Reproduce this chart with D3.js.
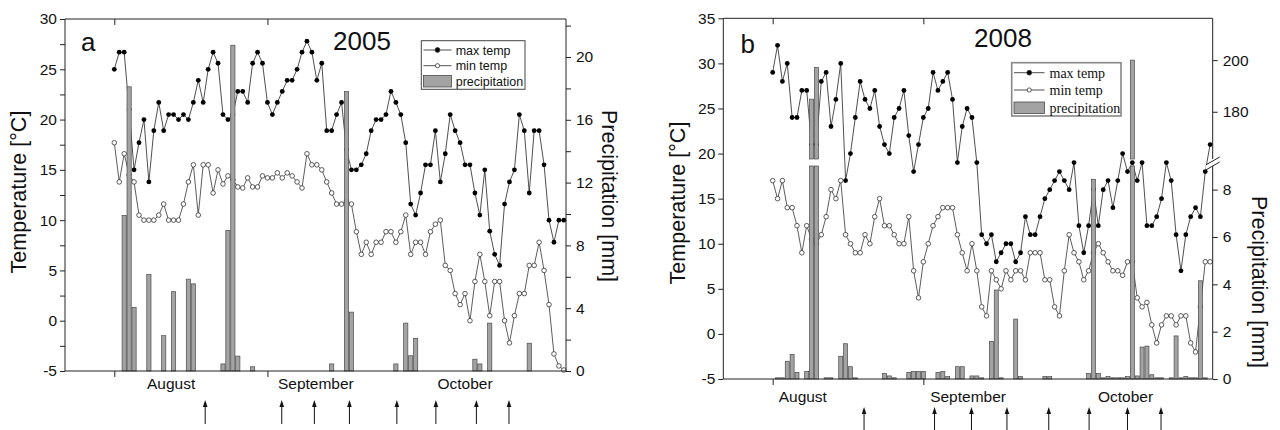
<!DOCTYPE html>
<html>
<head>
<meta charset="utf-8">
<script src="https://cdn.jsdelivr.net/npm/d3@7"></script>
<style>
  body { margin: 0; background: #fff; }
  svg { display: block; }
</style>
</head>
<body>
<script>
// daily values, index 0 = 1 August
var maxTempA = [25, 26.7, 26.7, 21, 15, 17.7, 20, 13.8, 18.9, 21.7, 18.9, 20.5, 20.5, 20, 20.5, 20,
  21.7, 23.9, 21.7, 25, 26.7, 25.6, 20.5, 20, 20.5, 22.8, 22.8, 21.7, 25.6, 26.7, 25.6, 21.7,
  20.5, 21.7, 22.8, 23.9, 23.9, 25, 26.7, 27.8, 26.7, 23.9, 25.6, 18.9, 18.9, 20.5, 21.7, 17,
  15, 15, 15.5, 16.6, 18.9, 20, 20, 20.5, 22.8, 21.7, 20.5, 17.7, 11.6, 10.5, 12.7, 15.5,
  15.5, 18.9, 13.8, 16.6, 20.5, 18.9, 17.7, 15.5, 15.5, 12.7, 10.5, 15, 8.9, 6.6, 5.5, 11.6,
  13.8, 15, 20.5, 18.9, 12.7, 18.9, 18.9, 15.5, 10, 7.8, 10, 10];
var minTempA = [17.7, 13.8, 16.6, 14.5, 13.8, 10.5, 10, 10, 10, 10.5, 11.6, 10, 10, 10, 11.6, 13.8,
  15.5, 10.5, 15.5, 15.5, 12.7, 15, 13.6, 14.4, 14, 13.3, 13.2, 14.2, 13.3, 13.3, 14.4, 14.2,
  14.2, 14.7, 14.2, 14.7, 14.4, 13.8, 13.2, 16.6, 15.5, 15.5, 15, 13.8, 12.7, 11.6, 11.6, 11.9,
  11.6, 8.85, 6.6, 7.8, 6.6, 7.8, 7.8, 8.85, 8.85, 7.8, 8.85, 10.5, 6.6, 7.8, 7.8, 6.6,
  8.85, 9.6, 10, 5.5, 5, 2.7, 1.6, 2.7, 0, 3.9, 6.6, 3.9, 0.5, 3.9, 3.9, 0,
  -2.2, 0.5, 2.7, 2.7, 5.5, 5.5, 7.8, 5, 1.6, -3.3, -4.5, -4.9];
// [day, mm]
var precipA = [[2, 9.9], [3, 18.1], [4, 4.05], [7, 6.15], [10, 2.25], [12, 5.05], [15, 5.85], [16, 5.55],
  [22, 0.45], [23, 8.95], [24, 20.75], [25, 0.95], [28, 0.27], [44, 0.45], [47, 17.8], [48, 3.75],
  [57, 0.45], [59, 3.05], [60, 0.97], [61, 2.08], [73, 0.75], [74, 0.45], [76, 3.05], [84, 1.77]];
var arrowsA = [18.4, 33.9, 40.5, 47.6, 57.2, 65.1, 73.3, 79.9];

var maxTempB = [29, 32, 28, 30, 24, 24, 27, 27, 21, 21, 28, 29, 23, 26, 30, 17,
  20, 24, 28, 26, 25, 27, 23, 21, 20, 24, 25, 27, 22, 18, 21, 24,
  25, 29, 27, 28, 29, 26, 19, 23, 25, 24, 19, 11, 10, 11, 8, 9,
  10, 10, 8, 9, 13, 11, 11, 13, 15, 16, 17, 18, 17, 16, 19, 12,
  9, 12, 16, 12, 16, 17, 14, 17, 20, 18, 19, 17, 19, 12, 12, 13,
  15, 19, 17, 11, 7, 11, 13, 14, 13, 18, 21];
var minTempB = [17, 15, 17, 14, 14, 12, 9, 12, 10.5, 10, 11, 13, 16, 15, 17, 11,
  10, 9, 9, 11, 10, 13, 15, 12, 12, 11, 10, 10, 13, 7, 4, 8,
  10, 12, 13, 14, 14, 14, 11, 9, 7, 10, 7, 3, 2, 7, 6, 5,
  7, 6, 7, 7, 6, 9, 9, 9, 6, 6, 3, 2, 7, 11, 9, 8,
  6, 7, 9, 10, 9, 8, 7, 7, 6.5, 8, 8, 4, 3, 3.5, 1, -1,
  1, 2, 2, 1, 2, 2, -1, -2, 3, 8, 8];
var precipB = [[1, 0.05], [2, 0.05], [3, 0.75], [4, 1.04], [5, 0.28], [7, 0.32], [8, 184.9], [9, 197.1],
  [11, 0.05], [12, 0.05], [14, 0.96], [15, 1.49], [16, 0.52], [17, 0.05], [23, 0.23], [24, 0.13],
  [25, 0.05], [28, 0.28], [29, 0.32], [30, 0.32], [31, 0.32], [34, 0.28], [35, 0.32], [36, 0.1],
  [38, 0.52], [39, 0.52], [41, 0.13], [42, 0.13], [43, 0.05], [45, 1.59], [46, 3.76], [47, 0.05],
  [50, 2.53], [51, 0.1], [56, 0.1], [57, 0.1], [65, 0.23], [66, 8.44], [67, 0.23], [68, 0.05],
  [69, 0.1], [70, 0.05], [71, 0.05], [72, 0.05], [73, 0.1], [74, 200], [75, 0.13], [76, 1.35],
  [77, 1.39], [78, 0.18], [79, 0.05], [80, 0.05], [82, 0.05], [83, 1.82], [84, 0.05], [85, 0.1],
  [86, 0.05], [87, 0.05], [88, 4.15], [89, 0.05]];
var arrowsB = [18.8, 33.3, 40.9, 48.2, 56.8, 65.1, 73.0, 79.9];

var months = ['August', 'September', 'October'];
var monthStarts = [0, 31];
var legendNames = ['max temp', 'min temp', 'precipitation'];

var SANS = '"Liberation Sans", Arial, sans-serif';
var SERIF = '"Liberation Serif", "Times New Roman", serif';

var svg = d3.select('body').append('svg').attr('width', 1280).attr('height', 430);

function styleAxis(sel, size) {
  sel.attr('font-size', size).attr('font-family', SANS);
  sel.select('.domain').remove();
  sel.selectAll('.tick line').attr('stroke', '#222');
  sel.selectAll('.tick text').attr('fill', '#111');
}

function drawPanel(p) {
  var g = svg.append('g');
  var x = d3.scaleLinear().domain(p.xDomain).range([p.left, p.right]);
  var yT = d3.scaleLinear().domain(p.tDomain).range([p.bottom, p.top]);

  var line = d3.line().x(function(d) { return x(d[0]); }).y(function(d) { return yT(d[1]); });
  var maxPts = p.maxT.map(function(v, i) { return [i, v]; });
  var minPts = p.minT.map(function(v, i) { return [i, v]; });

  g.append('path').datum(maxPts).attr('d', line)
    .attr('fill', 'none').attr('stroke', '#222').attr('stroke-width', 0.8);
  g.append('path').datum(minPts).attr('d', line)
    .attr('fill', 'none').attr('stroke', '#333').attr('stroke-width', 0.8);

  g.selectAll('circle.mx').data(maxPts)
    .enter().append('circle')
    .attr('cx', function(d) { return x(d[0]); })
    .attr('cy', function(d) { return yT(d[1]); })
    .attr('r', 2.4)
    .attr('fill', '#000');
  g.selectAll('circle.mn').data(minPts)
    .enter().append('circle')
    .attr('cx', function(d) { return x(d[0]); })
    .attr('cy', function(d) { return yT(d[1]); })
    .attr('r', 2.3)
    .attr('fill', '#fff')
    .attr('stroke', '#333')
    .attr('stroke-width', 0.8);

  // bars (drawn over the lines)
  var segs = [];
  p.precip.forEach(function(d) {
    p.barSegs(d[1]).forEach(function(s) { segs.push({ day: d[0], y0: s[0], y1: s[1] }); });
  });
  g.selectAll('rect.bar').data(segs)
    .enter().append('rect')
    .attr('x', function(d) { return x(d.day) - p.barW / 2; })
    .attr('y', function(d) { return d.y0; })
    .attr('width', p.barW)
    .attr('height', function(d) { return Math.max(0.6, d.y1 - d.y0); })
    .attr('fill', '#a3a3a3')
    .attr('stroke', '#4a4a4a')
    .attr('stroke-width', 0.7);

  // left axis
  var la = g.append('g').attr('transform', 'translate(' + p.left + ',0)')
    .call(d3.axisLeft(yT).tickValues(p.tTicks).tickSize(5).tickPadding(3)
      .tickFormat(function(d) { return d % 5 === 0 ? d : ''; }));
  styleAxis(la, 15.5);

  // right axis
  p.rightAxes.forEach(function(ax) {
    var ra = g.append('g').attr('transform', 'translate(' + p.right + ',0)')
      .call(d3.axisRight(ax.scale).tickValues(ax.ticks).tickSize(5).tickPadding(5)
        .tickFormat(ax.format));
    styleAxis(ra, 15.5);
  });

  // bottom / top month ticks
  var ba = g.append('g').attr('transform', 'translate(0,' + p.bottom + ')')
    .call(d3.axisBottom(x).tickValues(monthStarts).tickSize(6).tickFormat(''));
  styleAxis(ba, 15);
  var ta = g.append('g').attr('transform', 'translate(0,' + p.top + ')')
    .call(d3.axisBottom(x).tickValues(monthStarts).tickSize(6).tickFormat(''));
  styleAxis(ta, 15);

  g.selectAll('text.month').data(months)
    .enter().append('text')
    .attr('x', function(d, i) { return x(p.monthLabelDays[i]); })
    .attr('y', p.monthY)
    .attr('text-anchor', 'middle')
    .attr('font-family', SANS)
    .attr('font-size', 15.5)
    .attr('fill', '#111')
    .text(function(d) { return d; });

  // frame
  var fr = g.append('g').attr('stroke', '#222').attr('stroke-width', 1).attr('fill', 'none');
  fr.append('line').attr('x1', p.left).attr('x2', p.right).attr('y1', p.top).attr('y2', p.top);
  fr.append('line').attr('x1', p.left).attr('x2', p.right).attr('y1', p.bottom).attr('y2', p.bottom);
  fr.append('line').attr('x1', p.left).attr('x2', p.left).attr('y1', p.top).attr('y2', p.bottom);
  p.rightSpans.forEach(function(s) {
    fr.append('line').attr('x1', p.right).attr('x2', p.right).attr('y1', s[0]).attr('y2', s[1]);
  });

  // sampling arrows
  var ag = g.append('g');
  ag.selectAll('line').data(p.arrows)
    .enter().append('line')
    .attr('x1', function(d) { return x(d); })
    .attr('x2', function(d) { return x(d); })
    .attr('y1', p.arrowY[0] + 5)
    .attr('y2', p.arrowY[1])
    .attr('stroke', '#111')
    .attr('stroke-width', 1);
  ag.selectAll('path').data(p.arrows)
    .enter().append('path')
    .attr('d', function(d) {
      var cx = x(d), t = p.arrowY[0];
      return 'M' + cx + ',' + t + 'L' + (cx - 2.3) + ',' + (t + 7) + 'L' + (cx + 2.3) + ',' + (t + 7) + 'Z';
    })
    .attr('fill', '#111');

  // axis titles
  g.append('text')
    .attr('transform', 'translate(' + p.leftTitle[0] + ',' + p.leftTitle[1] + ') rotate(-90)')
    .attr('text-anchor', 'middle').attr('font-family', SANS).attr('font-size', 21.5).attr('fill', '#111')
    .text('Temperature [°C]');
  g.append('text')
    .attr('transform', 'translate(' + p.rightTitle[0] + ',' + p.rightTitle[1] + ') rotate(90)')
    .attr('text-anchor', 'middle').attr('font-family', SANS).attr('font-size', 21.5).attr('fill', '#111')
    .text('Precipitation [mm]');

  g.append('text').attr('x', p.letter[0]).attr('y', p.letter[1])
    .attr('font-family', SANS).attr('font-size', 26).attr('fill', '#111').text(p.letterText);
  g.append('text').attr('x', p.year[0]).attr('y', p.year[1])
    .attr('font-family', SANS).attr('font-size', 26).attr('fill', '#111').text(p.yearText);

  // legend
  var L = p.legend;
  var lg = g.append('g');
  lg.append('rect').attr('x', L.x).attr('y', L.y).attr('width', L.w).attr('height', L.h)
    .attr('fill', '#fff').attr('stroke', L.stroke).attr('stroke-width', L.sw);
  legendNames.forEach(function(name, i) {
    var yy = L.rows[i];
    if (i < 2) {
      lg.append('line').attr('x1', L.sx0).attr('x2', L.sx1).attr('y1', yy).attr('y2', yy)
        .attr('stroke', '#222').attr('stroke-width', 0.8);
      lg.append('circle').attr('cx', (L.sx0 + L.sx1) / 2).attr('cy', yy).attr('r', i === 0 ? 2.4 : 2.1)
        .attr('fill', i === 0 ? '#000' : '#fff').attr('stroke', '#333').attr('stroke-width', 0.8);
    } else {
      lg.append('rect').attr('x', L.sx0).attr('y', yy - 5.5).attr('width', L.sx1 - L.sx0).attr('height', 11.5)
        .attr('fill', '#a3a3a3').attr('stroke', '#4a4a4a').attr('stroke-width', 0.8);
    }
    lg.append('text').attr('x', L.tx).attr('y', yy + L.dy)
      .attr('font-family', L.font).attr('font-size', L.size).attr('fill', '#111').text(name);
  });

  if (p.extra) p.extra(g, x, yT);
}

// panel a
var yPA = d3.scaleLinear().domain([0, 22.42]).range([371, 19]);
drawPanel({
  left: 65, right: 566, top: 19, bottom: 371,
  xDomain: [-9.98, 91.44], tDomain: [-5, 30],
  tTicks: d3.range(-5, 30.01, 2.5),
  maxT: maxTempA, minT: minTempA, precip: precipA, arrows: arrowsA,
  barW: 4.2,
  barSegs: function(v) { return [[yPA(v), yPA(0)]]; },
  rightAxes: [{ scale: yPA, ticks: d3.range(0, 22.01, 2), format: function(d) { return d % 4 === 0 ? d : ''; } }],
  rightSpans: [[19, 371]],
  monthLabelDays: [11.5, 40.8, 71], monthY: 389,
  arrowY: [400, 424],
  leftTitle: [26, 192], rightTitle: [602, 196],
  letter: [81, 51], letterText: 'a',
  year: [333, 49.5], yearText: '2005',
  legend: { x: 421.3, y: 40.7, w: 103.7, h: 48.6, stroke: '#444', sw: 1,
    rows: [50, 65.7, 81], sx0: 423.5, sx1: 451.5, tx: 455.7, dy: 4.5, font: SANS, size: 12.5 }
});

// panel b, broken precipitation axis
var yPBlow = d3.scaleLinear().domain([0, 9]).range([379, 166]);
var yPBup = d3.scaleLinear().domain([161.7, 216.2]).range([159, 18.3]);
drawPanel({
  left: 723.3, right: 1212.7, top: 18.3, bottom: 379,
  xDomain: [-10.16, 90.53], tDomain: [-5, 35],
  tTicks: d3.range(-5, 35.01, 5),
  maxT: maxTempB, minT: minTempB, precip: precipB, arrows: arrowsB,
  barW: 4.0,
  barSegs: function(v) {
    if (v <= 9) return [[yPBlow(v), yPBlow(0)]];
    return [[yPBlow(9), yPBlow(0)], [yPBup(v), yPBup(161.7)]];
  },
  rightAxes: [
    { scale: yPBlow, ticks: [0, 2, 4, 6, 8], format: function(d) { return d; } },
    { scale: yPBup, ticks: [180, 200], format: function(d) { return d; } }
  ],
  rightSpans: [[18.3, 159], [166, 379]],
  monthLabelDays: [6.2, 40.2, 72.6], monthY: 402,
  arrowY: [407, 431],
  leftTitle: [685, 203], rightTitle: [1252, 282],
  letter: [740.5, 53], letterText: 'b',
  year: [974, 47], yearText: '2008',
  legend: { x: 1011.7, y: 62.7, w: 109.3, h: 53.3, stroke: '#888', sw: 1.6,
    rows: [72.7, 90, 107.5], sx0: 1014, sx1: 1044.5, tx: 1049.5, dy: 5, font: SERIF, size: 14 },
  extra: function(g) {
    // axis break marks
    var bx = 1212.7;
    g.append('path')
      .attr('d', 'M' + (bx - 7) + ',' + 165 + 'L' + (bx + 7) + ',' + 157 + 'L' + (bx + 7) + ',' + 162 + 'L' + (bx - 7) + ',' + 170 + 'Z')
      .attr('fill', '#fff');
    [[165, 157], [170, 162]].forEach(function(s) {
      g.append('line').attr('x1', bx - 7).attr('y1', s[0]).attr('x2', bx + 7).attr('y2', s[1])
        .attr('stroke', '#222').attr('stroke-width', 1);
    });
  }
});
</script>
</body>
</html>
